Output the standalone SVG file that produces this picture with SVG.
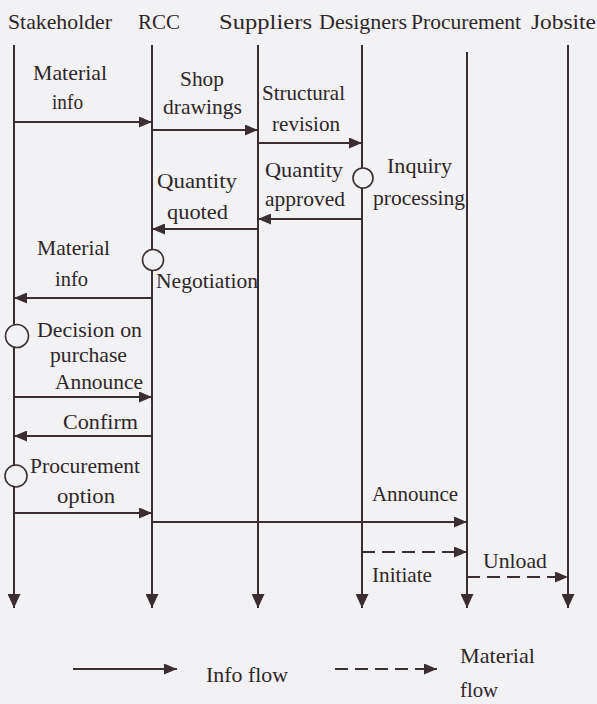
<svg xmlns="http://www.w3.org/2000/svg" width="597" height="704" viewBox="0 0 597 704">
<defs>
<marker id="ah" markerWidth="13" markerHeight="11" refX="13" refY="5.5" orient="auto" markerUnits="userSpaceOnUse"><path d="M0,0 L13,5.5 L0,11 z" fill="#3a2e32"/></marker>
<marker id="ahd" markerWidth="14" markerHeight="13" refX="14" refY="6.5" orient="auto" markerUnits="userSpaceOnUse"><path d="M0,0 L14,6.5 L0,13 z" fill="#3a2e32"/></marker>
</defs>
<style>
text{font-family:"Liberation Serif","Times New Roman",serif;font-size:21px;fill:#2e2629}
.life{stroke:#3a2e32;stroke-width:2;fill:none;marker-end:url(#ahd)}
.msg{stroke:#3a2e32;stroke-width:1.8;fill:none;marker-end:url(#ah)}
.mat{stroke:#3a2e32;stroke-width:1.8;fill:none;stroke-dasharray:13 7;marker-end:url(#ah)}
.act{fill:#f2f2f4;stroke:#3a2e32;stroke-width:1.6}
</style>
<rect width="597" height="704" fill="#f2f2f4"/>

<g id="stakeholder">
<text x="8" y="29" textLength="104" lengthAdjust="spacingAndGlyphs">Stakeholder</text>
<line class="life" x1="14" y1="45" x2="14" y2="608"/>
</g>
<g id="rcc">
<text x="138" y="29" textLength="42" lengthAdjust="spacingAndGlyphs">RCC</text>
<line class="life" x1="152" y1="45" x2="152" y2="608"/>
</g>
<g id="suppliers">
<text x="219" y="29" textLength="93" lengthAdjust="spacingAndGlyphs">Suppliers</text>
<line class="life" x1="258" y1="45" x2="258" y2="608"/>
</g>
<g id="designers">
<text x="319" y="29" textLength="88" lengthAdjust="spacingAndGlyphs">Designers</text>
<line class="life" x1="362" y1="45" x2="362" y2="608"/>
</g>
<g id="procurement">
<text x="411" y="29" textLength="110" lengthAdjust="spacingAndGlyphs">Procurement</text>
<line class="life" x1="467" y1="52" x2="467" y2="608"/>
</g>
<g id="jobsite">
<text x="531" y="29" textLength="65" lengthAdjust="spacingAndGlyphs">Jobsite</text>
<line class="life" x1="568" y1="45" x2="568" y2="608"/>
</g>

<g id="activities">
<g id="inquiry-processing">
<circle class="act" cx="363" cy="178" r="10"/>
<text x="387" y="173" textLength="65" lengthAdjust="spacingAndGlyphs">Inquiry</text>
<text x="373" y="205" textLength="92" lengthAdjust="spacingAndGlyphs">processing</text>
</g>
<g id="negotiation">
<circle class="act" cx="153" cy="260" r="10.5"/>
<text x="156" y="288" textLength="102" lengthAdjust="spacingAndGlyphs">Negotiation</text>
</g>
<g id="decision">
<circle class="act" cx="17" cy="336" r="11.5"/>
<text x="37" y="337" textLength="105" lengthAdjust="spacingAndGlyphs">Decision on</text>
<text x="50" y="362" textLength="77" lengthAdjust="spacingAndGlyphs">purchase</text>
</g>
<g id="procurement-option">
<circle class="act" cx="16" cy="476" r="11"/>
<text x="30" y="473" textLength="110" lengthAdjust="spacingAndGlyphs">Procurement</text>
<text x="57" y="503" textLength="58" lengthAdjust="spacingAndGlyphs">option</text>
</g>
</g>

<g id="connectors">
<line class="msg" x1="14" y1="122" x2="152" y2="122"/>
<text x="33" y="80" textLength="74" lengthAdjust="spacingAndGlyphs">Material</text>
<text x="52" y="109" textLength="31" lengthAdjust="spacingAndGlyphs">info</text>

<line class="msg" x1="152" y1="130" x2="258" y2="130"/>
<text x="180" y="86" textLength="44" lengthAdjust="spacingAndGlyphs">Shop</text>
<text x="163" y="114" textLength="79" lengthAdjust="spacingAndGlyphs">drawings</text>

<line class="msg" x1="258" y1="143" x2="362" y2="143"/>
<text x="262" y="100" textLength="83" lengthAdjust="spacingAndGlyphs">Structural</text>
<text x="272" y="131" textLength="68" lengthAdjust="spacingAndGlyphs">revision</text>

<line class="msg" x1="362" y1="219" x2="258" y2="219"/>
<text x="265" y="177" textLength="78" lengthAdjust="spacingAndGlyphs">Quantity</text>
<text x="265" y="206" textLength="80" lengthAdjust="spacingAndGlyphs">approved</text>

<line class="msg" x1="258" y1="229" x2="152" y2="229"/>
<text x="157" y="188" textLength="80" lengthAdjust="spacingAndGlyphs">Quantity</text>
<text x="167" y="219" textLength="61" lengthAdjust="spacingAndGlyphs">quoted</text>

<line class="msg" x1="152" y1="298" x2="14" y2="298"/>
<text x="37" y="255" textLength="73" lengthAdjust="spacingAndGlyphs">Material</text>
<text x="55" y="286" textLength="33" lengthAdjust="spacingAndGlyphs">info</text>

<line class="msg" x1="14" y1="397" x2="152" y2="397"/>
<text x="55" y="389" textLength="88" lengthAdjust="spacingAndGlyphs">Announce</text>

<line class="msg" x1="152" y1="436" x2="14" y2="436"/>
<text x="63" y="429" textLength="75" lengthAdjust="spacingAndGlyphs">Confirm</text>

<line class="msg" x1="14" y1="513" x2="152" y2="513"/>

<line class="msg" x1="152" y1="522" x2="467" y2="522"/>
<text x="372" y="501" textLength="86" lengthAdjust="spacingAndGlyphs">Announce</text>

<line class="mat" x1="362" y1="552" x2="467" y2="552"/>
<text x="372" y="582" textLength="60" lengthAdjust="spacingAndGlyphs">Initiate</text>

<line class="mat" x1="467" y1="577" x2="568" y2="577"/>
<text x="483" y="568" textLength="64" lengthAdjust="spacingAndGlyphs">Unload</text>
</g>

<g id="legend">
<line class="msg" x1="73" y1="669" x2="177" y2="669"/>
<text x="206" y="682" textLength="82" lengthAdjust="spacingAndGlyphs">Info flow</text>
<line class="mat" x1="335" y1="669" x2="437" y2="669"/>
<text x="460" y="663" textLength="75" lengthAdjust="spacingAndGlyphs">Material</text>
<text x="460" y="697" textLength="38" lengthAdjust="spacingAndGlyphs">flow</text>
</g>
</svg>
